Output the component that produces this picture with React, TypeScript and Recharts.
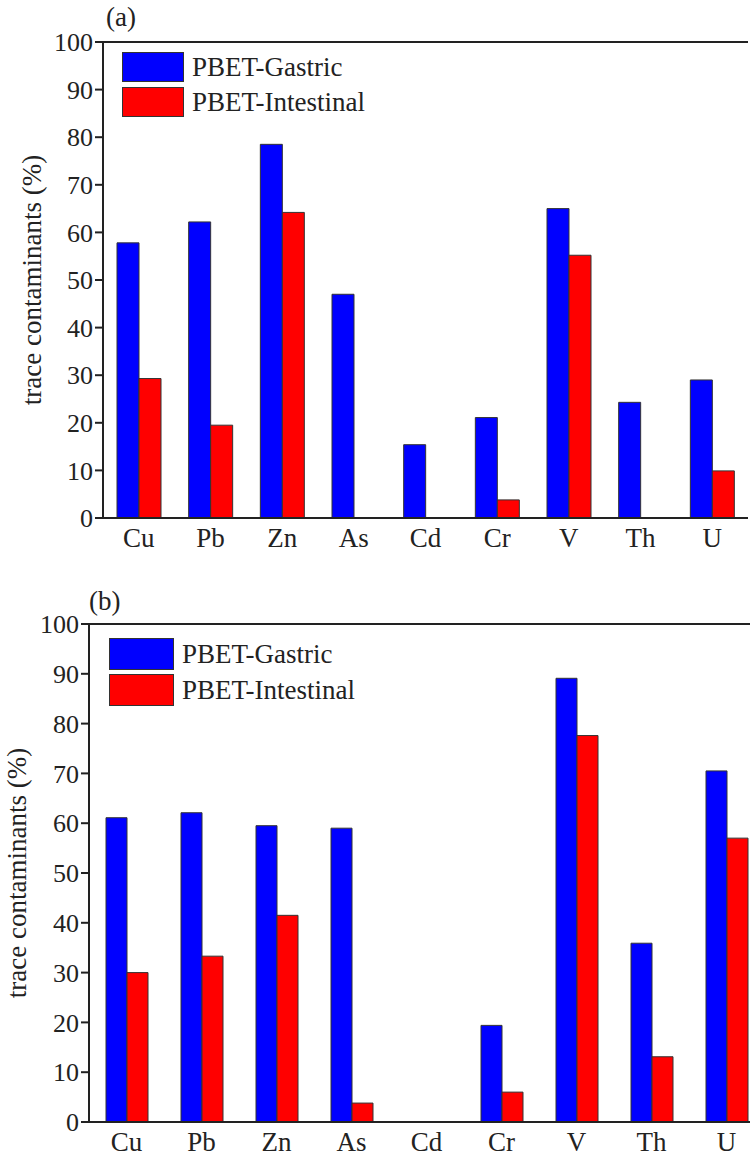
import React from 'react'
import {
  BarChart, Bar, XAxis, YAxis, Legend, ReferenceLine,
} from 'recharts'

const elements = ['Cu', 'Pb', 'Zn', 'As', 'Cd', 'Cr', 'V', 'Th', 'U']
const yTicks = [0, 10, 20, 30, 40, 50, 60, 70, 80, 90, 100]

// panel (a)
const gastricA = [57.8, 62.2, 78.5, 47.0, 15.4, 21.1, 65.0, 24.3, 29.0]
const intestinalA = [29.3, 19.5, 64.2, 0, 0, 3.8, 55.2, 0, 9.9]

// panel (b)
const gastricB = [61.1, 62.1, 59.5, 59.0, 0, 19.4, 89.1, 35.9, 70.5]
const intestinalB = [30.0, 33.3, 41.5, 3.8, 0, 6.0, 77.6, 13.1, 57.0]

const FONT = '"Liberation Serif", "Times New Roman", Times, serif'
const INK = '#222'

const toRows = (g: number[], i: number[]) =>
  elements.map((name, k) => ({ name, gastric: g[k], intestinal: i[k] }))

function LegendBox({ boxW, boxH, gap }: { boxW: number; boxH: number; gap: number }) {
  const items = [
    { label: 'PBET-Gastric', color: '#0000ff' },
    { label: 'PBET-Intestinal', color: '#ff0000' },
  ]
  return (
    <div style={{ fontFamily: FONT, fontSize: 27, color: INK }}>
      {items.map((it, k) => (
        <div key={it.label} style={{ display: 'flex', alignItems: 'center', marginTop: k ? gap : 0 }}>
          <div style={{ width: boxW, height: boxH, background: it.color, border: '1.5px solid #333', boxSizing: 'border-box' }} />
          <span style={{ marginLeft: 8, lineHeight: 1, whiteSpace: 'nowrap' }}>{it.label}</span>
        </div>
      ))}
    </div>
  )
}

interface PanelProps {
  g: number[]
  i: number[]
  width: number
  height: number
  margin: { top: number; right: number; bottom: number; left: number }
  axisW: number
  barSize: number
  labelDx: number
  legendPos: { left: number; top: number }
  legendBox: { boxW: number; boxH: number; gap: number }
  frameRight: boolean
}

function Panel(p: PanelProps) {
  return (
    <BarChart width={p.width} height={p.height} data={toRows(p.g, p.i)} margin={p.margin} barGap={0} barCategoryGap={0}>
      <XAxis
        dataKey="name"
        tickLine={false}
        axisLine={{ stroke: INK, strokeWidth: 2 }}
        tick={{ fontFamily: FONT, fontSize: 27, fill: INK }}
        tickMargin={4}
        height={40}
        interval={0}
      />
      <YAxis
        domain={[0, 100]}
        ticks={yTicks}
        interval={0}
        width={p.axisW}
        axisLine={{ stroke: INK, strokeWidth: 2 }}
        tickLine={{ stroke: INK, strokeWidth: 2 }}
        tickSize={8}
        tick={{ fontFamily: FONT, fontSize: 26, fill: INK }}
        label={{
          value: 'trace contaminants (%)',
          angle: -90,
          position: 'center',
          dx: p.labelDx,
          style: { fontFamily: FONT, fontSize: 27, fill: INK, textAnchor: 'middle' },
        }}
      />
      {p.frameRight && (
        <YAxis yAxisId="frame" orientation="right" domain={[0, 100]} width={0} tick={false} tickLine={false}
          axisLine={{ stroke: INK, strokeWidth: 2 }} />
      )}
      <ReferenceLine y={100} stroke={INK} strokeWidth={2} />
      {/* middle/center keeps the legend out of the plot offset */}
      <Legend
        layout="horizontal"
        verticalAlign="middle"
        align="center"
        wrapperStyle={{ position: 'absolute', left: p.legendPos.left, top: p.legendPos.top, width: 'auto' }}
        content={() => <LegendBox {...p.legendBox} />}
      />
      <Bar dataKey="gastric" name="PBET-Gastric" fill="#0000ff" stroke="#333" strokeWidth={1} barSize={p.barSize} isAnimationActive={false} />
      <Bar dataKey="intestinal" name="PBET-Intestinal" fill="#ff0000" stroke="#333" strokeWidth={1} barSize={p.barSize} isAnimationActive={false} />
    </BarChart>
  )
}

export default function App() {
  const tag: React.CSSProperties = { position: 'absolute', fontFamily: FONT, fontSize: 27, color: INK, lineHeight: 1 }
  return (
    <div style={{ position: 'absolute', left: 0, top: 0, width: 750, height: 1162, overflow: 'hidden', background: '#fff' }}>
      <div style={{ position: 'absolute', left: 0, top: 0 }}>
        <Panel
          g={gastricA}
          i={intestinalA}
          width={750}
          height={558}
          margin={{ top: 42, right: 2, bottom: 0, left: 0 }}
          axisW={103}
          barSize={22}
          labelDx={-20}
          legendPos={{ left: 122, top: 52 }}
          legendBox={{ boxW: 62, boxH: 30, gap: 5 }}
          frameRight
        />
      </div>
      <div style={{ ...tag, left: 106, top: 4 }}>(a)</div>

      <div style={{ position: 'absolute', left: 0, top: 560 }}>
        <Panel
          g={gastricB}
          i={intestinalB}
          width={770}
          height={602}
          margin={{ top: 64, right: 6, bottom: 0, left: 0 }}
          axisW={89}
          barSize={21}
          labelDx={-28}
          legendPos={{ left: 109, top: 78 }}
          legendBox={{ boxW: 65, boxH: 32, gap: 4 }}
          frameRight={false}
        />
      </div>
      <div style={{ ...tag, left: 89, top: 588 }}>(b)</div>
    </div>
  )
}
